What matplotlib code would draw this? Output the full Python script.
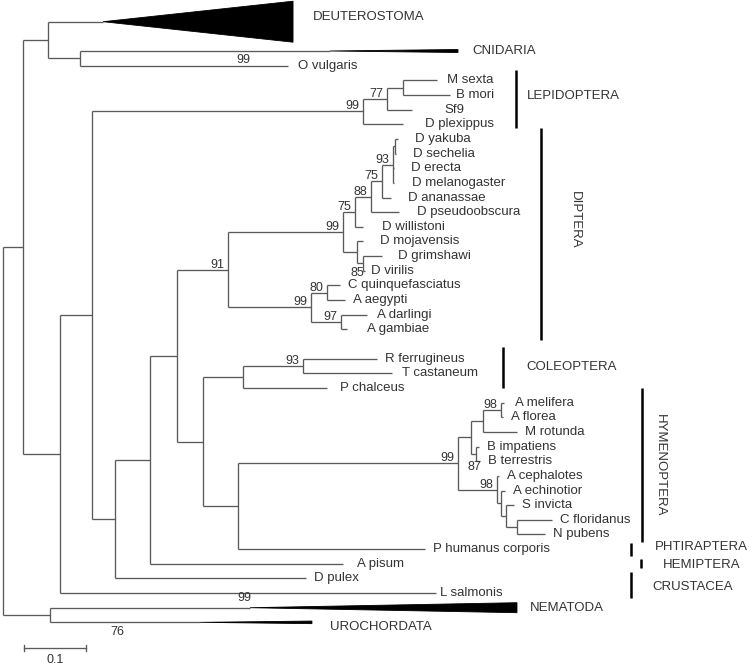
import matplotlib
matplotlib.use("Agg")
import matplotlib.pyplot as plt
from matplotlib.patches import Polygon

plt.rcParams["font.family"] = ["Liberation Sans", "DejaVu Sans"]

# tree: branch lengths in substitutions/site, internal labels = bootstrap
TREE = """
(
 (
  (DEUTEROSTOMA:0.0887,(CNIDARIA:0.4032,O_vulgaris:0.3355):0.0516):0.0403,
  (
   (
    (((M_sexta:0.0548,B_mori:0.0758):0.0258,Sf9:0.0403)77:0.0387,D_plexippus:0.0645)99:0.4371,
    (
     (
      (
       (
        (
         (((((D_yakuba:0.0048,D_sechelia:0.0016):0.0032,D_erecta:0.0016,D_melanogaster:0.0008)93:0.0177,
            D_ananassae:0.0145)75:0.0177,D_pseudoobscura:0.0452)88:0.0258,D_willistoni:0.0129)75:0.0194,
         (D_mojavensis:0.0097,(D_grimshawi:0.0306,D_virilis:0.0032)85:0.0097):0.0226
        )99:0.1855,
        ((C_quinquefasciatus:0.0210,A_aegypti:0.0290)80:0.0258,(A_darlingi:0.0419,A_gambiae:0.0097)97:0.0484)99:0.1339
       )91:0.0823,
       (
        ((R_ferrugineus:0.1194,T_castaneum:0.1435)93:0.0968,P_chalceus:0.1355):0.0645,
        (
         (
          (((A_melifera:0.0048,A_florea:0.0032)98:0.0290,M_rotunda:0.0548):0.0194,
           (B_impatiens:0.0048,B_terrestris:0.0065)87:0.0081):0.0210,
          (A_cephalotes:0.0032,(A_echinotior:0.0065,(S_invicta:0.0129,
           (C_floridanus:0.0565,N_pubens:0.0452):0.0177):0.0081):0.0065)98:0.0629
         )99:0.3548,
         P_humanus_corporis:0.3016
        ):0.0565
       ):0.0419
      ):0.0435,
      A_pisum:0.3113
     ):0.0565,
     D_pulex:0.3081
    ):0.0371
   ):0.0516,
   L_salmonis:0.6065
  ):0.0597
 ):0.0323,
 (NEMATODA:0.3226,UROCHORDATA:0.2419):0.0758
);
"""

# collapsed clades: depth of the compressed subtree
collapsed_depth = {"DEUTEROSTOMA": 0.3065, "CNIDARIA": 0.2065,
                   "NEMATODA": 0.4306, "UROCHORDATA": 0.1806}
# bootstrap values written on terminal branches
branch_support = {"O vulgaris": 99, "NEMATODA": 99, "UROCHORDATA": 76}
# empty rows before these leaves
gap_before = {"CNIDARIA": 1, "R ferrugineus": 1}

clades = ["LEPIDOPTERA", "DIPTERA", "COLEOPTERA", "HYMENOPTERA",
          "PHTIRAPTERA", "HEMIPTERA", "CRUSTACEA"]
clade_first = ["M sexta", "D yakuba", "R ferrugineus", "A melifera",
               "P humanus corporis", "A pisum", "D pulex"]
clade_last = ["D plexippus", "A gambiae", "P chalceus", "N pubens",
              "P humanus corporis", "A pisum", "L salmonis"]

scale_len = 0.1

# ---- layout (pixels) ----
PX = 1 / 620.0      # x units per pixel
PY = 1 / 14.65      # rows per pixel
LINE = "#5a5a5a"
TXT = "#333333"
FS = 9.5

tri_half = {"DEUTEROSTOMA": 20.5, "CNIDARIA": 1.5, "NEMATODA": 5, "UROCHORDATA": 1.3}
label_pad = {"DEUTEROSTOMA": 20, "CNIDARIA": 14, "O vulgaris": 10, "M sexta": 10, "B mori": 6,
             "Sf9": 32, "D plexippus": 22, "D yakuba": 17, "D sechelia": 17, "D erecta": 17,
             "D melanogaster": 18, "D ananassae": 17, "D pseudoobscura": 18, "D willistoni": 19,
             "D mojavensis": 17, "D grimshawi": 16, "D virilis": 6, "A gambiae": 20,
             "A darlingi": 10, "P chalceus": 13, "T castaneum": 10, "A melifera": 11,
             "A pisum": 14, "L salmonis": 4, "NEMATODA": 13, "UROCHORDATA": 18}
label_dy = {"DEUTEROSTOMA": -5, "UROCHORDATA": 5}
support_pos = {"O vulgaris": (0.784, -6), "NEMATODA": (0.97, -10), "UROCHORDATA": (0.447, 10)}
boot_shift = {"D grimshawi": (1, 12.5), "B impatiens": (5, 16)}
clade_bar_x = [516, 541, 503, 642, 631, 641, 631]
clade_pad = [(0.70, 0.25), (0.74, 0.72), (0.8, 0.0), (1.0, 0.5), (0.45, 0.45), (0.3, 0.3), (0.45, 0.35)]
clade_label_x = [527, 575, 526, 660, 655, 663, 652]
clade_label_dy = [-3, -14, 0, 0, -2, 1, 2]
clade_rot = [False, True, False, True, False, False, False]


def parse(s):
    s = "".join(s.split())
    pos = 0

    def node():
        nonlocal pos
        kids = []
        if s[pos] == "(":
            pos += 1
            kids.append(node())
            while s[pos] == ",":
                pos += 1
                kids.append(node())
            pos += 1
        st = pos
        while s[pos] not in ":,);":
            pos += 1
        label = s[st:pos].replace("_", " ")
        length = 0.0
        if s[pos] == ":":
            pos += 1
            st = pos
            while s[pos] not in ",);":
                pos += 1
            length = float(s[st:pos])
        return {"label": label, "length": length, "children": kids}

    return node()


root = parse(TREE)
leaves = {}
row = [0]


def layout(n, x0):
    n["x0"] = x0
    n["x"] = x0 + n["length"]
    if not n["children"]:
        row[0] += gap_before.get(n["label"], 0)
        n["y"] = row[0]
        row[0] += 1
        leaves[n["label"]] = n
        return
    for c in n["children"]:
        layout(c, n["x"])
    n["y"] = (n["children"][0]["y"] + n["children"][-1]["y"]) / 2


layout(root, 0.0)


def first_leaf(n):
    while n["children"]:
        n = n["children"][0]
    return n["label"]


fig = plt.figure(figsize=(7.55, 6.71), dpi=100)
ax = fig.add_axes([0, 0, 1, 1])
ax.set_xlim(-3 * PX, 752 * PX)
ax.set_ylim((671 - 21.7) * PY, -21.7 * PY)
ax.axis("off")


def draw(n):
    if n["children"]:
        ys = [c["y"] for c in n["children"]]
        ax.plot([n["x"], n["x"]], [ys[0], ys[-1]], color=LINE, lw=0.95, solid_capstyle="butt")
        for c in n["children"]:
            ax.plot([n["x"], c["x"]], [c["y"], c["y"]], color=LINE, lw=0.95, solid_capstyle="butt")
            draw(c)
        if n["label"]:
            dx, dy = boot_shift.get(first_leaf(n), (-4, -2))
            ax.text(n["x"] + dx * PX, n["y"] + dy * PY, n["label"], ha="right", va="baseline",
                    fontsize=9, color=TXT)
    else:
        name = n["label"]
        end = n["x"]
        if name in collapsed_depth:
            end = n["x"] + collapsed_depth[name]
            h = tri_half[name] * PY
            ax.add_patch(Polygon([(n["x"], n["y"]), (end, n["y"] - h), (end, n["y"] + h)],
                                 closed=True, facecolor="black", edgecolor="black", lw=0.6))
        ax.text(end + label_pad.get(name, 8) * PX, n["y"] + label_dy.get(name, 0) * PY, name,
                ha="left", va="center", fontsize=FS, color=TXT)
        if name in branch_support:
            frac, dy = support_pos[name]
            ax.text(n["x0"] + frac * n["length"], n["y"] + dy * PY, str(branch_support[name]),
                    ha="center", va="center", fontsize=9, color=TXT)


draw(root)

for i, name in enumerate(clades):
    y0 = leaves[clade_first[i]]["y"] - clade_pad[i][0]
    y1 = leaves[clade_last[i]]["y"] + clade_pad[i][1]
    bx = (clade_bar_x[i] - 3) * PX
    ax.plot([bx, bx], [y0, y1], color="black", lw=1.8, solid_capstyle="butt")
    lx = (clade_label_x[i] - 3) * PX
    ly = (y0 + y1) / 2 + clade_label_dy[i] * PY
    if clade_rot[i]:
        ax.text(lx, ly, name, rotation=270, ha="center", va="center", fontsize=FS, color=TXT)
    else:
        ax.text(lx, ly, name, ha="left", va="center", fontsize=FS, color=TXT)

# scale bar
sx = 21 * PX
sy = (648 - 21.7) * PY
ax.plot([sx, sx + scale_len], [sy, sy], color=LINE, lw=0.95)
for xx in (sx, sx + scale_len):
    ax.plot([xx, xx], [sy - 3 * PY, sy + 3 * PY], color=LINE, lw=0.95)
ax.text(sx + scale_len / 2, sy + 12 * PY, str(scale_len), ha="center", va="center",
        fontsize=9, color=TXT)

fig.savefig("out.png", dpi=100, facecolor="white")
